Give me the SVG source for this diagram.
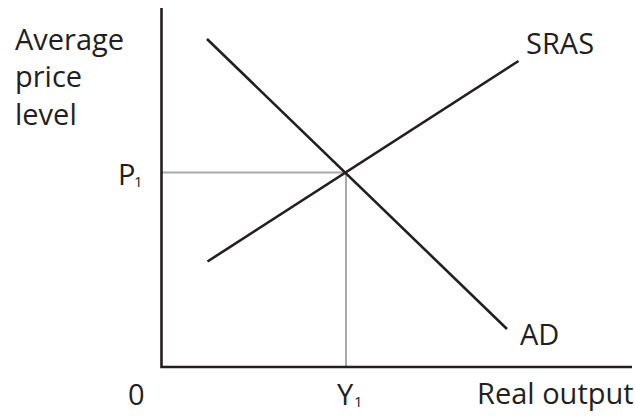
<svg xmlns="http://www.w3.org/2000/svg" width="635" height="418" viewBox="0 0 635 418">
<style>
.axis{stroke:#231f20;stroke-width:2.6;fill:none}
.curve{stroke:#231f20;stroke-width:2.6;fill:none}
.guide{stroke:#a7a9ac;stroke-width:2;fill:none}
.lbl{font-family:"Open Sans","Liberation Sans",sans-serif;font-size:29px;fill:#231f20}
.sub{font-family:"Open Sans","Liberation Sans",sans-serif;font-size:15px;fill:#231f20}
</style>
<rect width="635" height="418" fill="#ffffff"/>
<g id="connectors">
<line class="guide" x1="162" y1="172.5" x2="346" y2="172.5"/>
<line class="guide" x1="346" y1="172.5" x2="346" y2="367"/>
<polyline class="axis" points="161.5,8 161.5,367 632,367"/>
<line id="ad-line" class="curve" x1="207" y1="39" x2="507" y2="329"/>
<line id="sras-line" class="curve" x1="207.5" y1="261.5" x2="518.5" y2="61"/>
</g>
<g id="y-axis-label">
<text class="lbl" x="15" y="50">Average</text>
<text class="lbl" x="15" y="87">price</text>
<text class="lbl" x="15" y="125">level</text>
</g>
<g id="p1"><text class="lbl" x="118" y="185">P</text><text class="sub" x="134" y="186.5">1</text></g>
<g id="origin"><text class="lbl" x="128" y="405">0</text></g>
<g id="y1"><text class="lbl" x="337" y="405">Y</text><text class="sub" x="354" y="406.5">1</text></g>
<g id="x-axis-label"><text class="lbl" x="477" y="404">Real output</text></g>
<g id="sras"><text class="lbl" x="526" y="54">SRAS</text></g>
<g id="ad"><text class="lbl" x="520" y="345">AD</text></g>
</svg>
